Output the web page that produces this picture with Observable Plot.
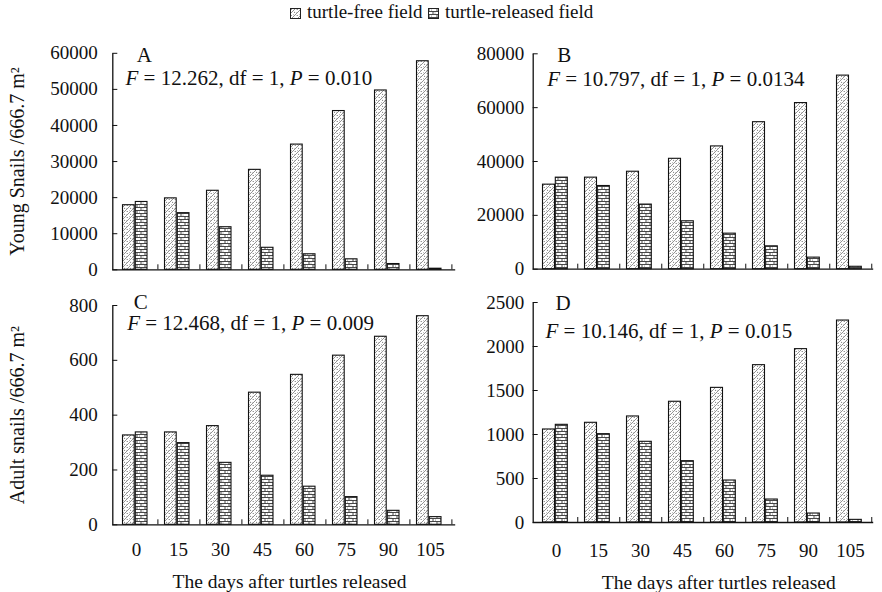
<!DOCTYPE html>
<html>
<head>
<meta charset="utf-8">
<script src="https://cdn.jsdelivr.net/npm/d3@7"></script>
<script src="https://cdn.jsdelivr.net/npm/@observablehq/plot@0.6"></script>
<style>
  body { margin: 0; background: #fff; }
  #wrap { position: relative; width: 882px; height: 592px; background: #fff; overflow: hidden;
          font-family: "Liberation Serif", "Times New Roman", serif; color: #111; }
  #wrap svg text { font-family: "Liberation Serif", "Times New Roman", serif !important; }
  #legend { position: absolute; top: 0; left: 0; width: 882px; height: 28px; font-size: 19px; white-space: nowrap; }
  #legend > * { position: absolute; }
</style>
</head>
<body>
<svg width="0" height="0" style="position:absolute">
  <defs>
    <pattern id="pFree" width="6" height="6" patternUnits="userSpaceOnUse">
      <rect width="6" height="6" fill="#fff"/>
      <path d="M0,6 L6,0 M-1,1 L1,-1 M5,7 L7,5" stroke="#777" stroke-width="0.8"/>
      <circle cx="1.2" cy="1.5" r="0.55" fill="#555"/>
      <circle cx="4.6" cy="4.2" r="0.55" fill="#555"/>
      <circle cx="3.6" cy="0.8" r="0.45" fill="#777"/>
      <circle cx="0.8" cy="4.6" r="0.45" fill="#777"/>
    </pattern>
    <pattern id="pRel" width="8" height="6" patternUnits="userSpaceOnUse">
      <rect width="8" height="6" fill="#fff"/>
      <path d="M0,0.5 H8 M0,3.5 H8 M1,0.5 V3.5 M5,3.5 V6.5" stroke="#333" stroke-width="0.9"/>
      <circle cx="3.5" cy="2" r="0.5" fill="#666"/>
      <circle cx="7" cy="5" r="0.5" fill="#666"/>
    </pattern>
  </defs>
</svg>
<div id="wrap">
  <div id="legend">
    <svg width="11" height="11" style="left:290px; top:8px"><rect x="0.5" y="0.5" width="10" height="10" fill="url(#pFree)" stroke="#222"/></svg>
    <span id="lg1" style="left:307px; top:1px"></span>
    <svg width="11" height="11" style="left:428px; top:8px"><rect x="0.5" y="0.5" width="10" height="10" fill="url(#pRel)" stroke="#222"/></svg>
    <span id="lg2" style="left:445px; top:1px"></span>
  </div>
</div>
<script>
// ---- data ----
const days = [0, 15, 30, 45, 60, 75, 90, 105];
const seriesNames = ["turtle-free field", "turtle-released field"];

const youngA_free     = [17900, 19800, 21900, 27700, 34700, 44000, 49700, 57800];
const youngA_released = [18800, 15700, 11800, 6100, 4300, 2900, 1600, 300];

const youngB_free     = [31400, 34000, 36200, 41000, 45600, 54600, 61700, 71900];
const youngB_released = [34000, 30900, 24000, 17800, 13200, 8500, 4300, 900];

const adultC_free     = [326, 337, 360, 482, 547, 617, 686, 761];
const adultC_released = [337, 298, 226, 179, 139, 101, 51, 28];

const adultD_free     = [1057, 1133, 1205, 1372, 1530, 1788, 1970, 2295];
const adultD_released = [1110, 1004, 917, 697, 477, 261, 102, 30];

const ticksA = [0, 10000, 20000, 30000, 40000, 50000, 60000];
const ticksB = [0, 20000, 40000, 60000, 80000];
const ticksC = [0, 200, 400, 600, 800];
const ticksD = [0, 500, 1000, 1500, 2000, 2500];

const statA = ["F", " = 12.262, df = 1, ", "P", " = 0.010"];
const statB = ["F", " = 10.797, df = 1, ", "P", " = 0.0134"];
const statC = ["F", " = 12.468, df = 1, ", "P", " = 0.009"];
const statD = ["F", " = 10.146, df = 1, ", "P", " = 0.015"];

const yTitleTop = "Young Snails /666.7 m²";
const yTitleBottom = "Adult snails /666.7 m²";
const xTitle = "The days after turtles released";

// ---- drawing ----
document.getElementById("lg1").textContent = seriesNames[0];
document.getElementById("lg2").textContent = seriesNames[1];
const wrap = document.getElementById("wrap");
const FONT = "Liberation Serif, Times New Roman, serif";

function panel(cfg) {
  const {free, released, ticks, letter, stat, left, top, width, height, ml, mr, mt, mb,
         showX, xPad, yPad, letterPos, statPos, yTitle, xTitlePos} = cfg;
  const data = days.map((d, i) => ({day: d, free: free[i], released: released[i]}));
  const plotW = width - ml - mr, plotH = height - mt - mb;
  const step = plotW / days.length;
  const statText = stat.join("");
  const marks = [
    Plot.barY(data, {x: "day", y: "free", fill: "url(#pFree)", stroke: "#111", strokeWidth: 1.1,
                     insetLeft: 7.5, insetRight: step - 20}),
    Plot.barY(data, {x: "day", y: "released", fill: "url(#pRel)", stroke: "#111", strokeWidth: 1.1,
                     insetLeft: 20.3, insetRight: step - 32.8}),
    Plot.ruleY(ticks, {stroke: "#111", strokeWidth: 1, insetRight: plotW - 5}),
    Plot.ruleX(days, {x: d => d, dx: step / 2, stroke: "#111", strokeWidth: 1, insetTop: plotH - 5}),
    Plot.frame({stroke: "#111", strokeWidth: 1.3, strokeDasharray: `0 ${plotW + plotH} ${plotW + plotH}`}),
    Plot.text([letter], {text: d => d, frameAnchor: "top-left", textAnchor: "start", lineAnchor: "middle",
                         dx: letterPos[0], dy: letterPos[1], fontSize: 21, fill: "#111"}),
    Plot.text([statText], {text: d => d, frameAnchor: "top-left", textAnchor: "start", lineAnchor: "middle",
                           dx: statPos[0], dy: statPos[1], fontSize: 21, fill: "#111"})
  ];
  if (yTitle) marks.push(Plot.text([yTitle], {text: d => d, frameAnchor: "left", rotate: -90, textAnchor: "middle",
                                              lineAnchor: "middle", dx: -95, fontSize: 20, fill: "#111"}));
  if (xTitlePos) marks.push(Plot.text([xTitle], {text: d => d, frameAnchor: "bottom-left", textAnchor: "middle",
                                                lineAnchor: "middle", dx: xTitlePos[0], dy: xTitlePos[1], fontSize: 19.5, fill: "#111"}));
  const svg = Plot.plot({
    width, height, marginLeft: ml, marginRight: mr, marginTop: mt, marginBottom: mb,
    style: {fontFamily: FONT, fontSize: "19px", color: "#111", background: "transparent", overflow: "visible", maxWidth: "none"},
    x: {type: "band", domain: days, padding: 0, axis: showX ? "bottom" : null, tickSize: 0, tickPadding: xPad, label: null},
    y: {domain: [0, ticks[ticks.length - 1]], ticks: ticks, tickSize: 0, tickPadding: yPad, tickFormat: d => String(d), label: null},
    marks
  });
  svg.style.position = "absolute";
  svg.style.left = left + "px";
  svg.style.top = top + "px";
  // italicise F and P in the statistic
  svg.querySelectorAll("text").forEach(t => {
    if (t.textContent === statText && t.children.length === 0) {
      t.textContent = "";
      stat.forEach((s, i) => {
        const ts = document.createElementNS("http://www.w3.org/2000/svg", "tspan");
        ts.textContent = s;
        if (i % 2 === 0) ts.setAttribute("font-style", "italic");
        t.appendChild(ts);
      });
    }
  });
  wrap.appendChild(svg);
}

panel({free: youngA_free, released: youngA_released, ticks: ticksA, letter: "A", stat: statA,
       left: 0, top: 30, width: 460, height: 250, ml: 112.3, mr: 5.3, mt: 22.8, mb: 10.7,
       showX: false, xPad: 19, yPad: 15, letterPos: [24, 2], statPos: [12.7, 24.5], yTitle: yTitleTop});
panel({free: youngB_free, released: youngB_released, ticks: ticksB, letter: "B", stat: statB,
       left: 441, top: 30, width: 441, height: 250, ml: 91.7, mr: 9.3, mt: 23.3, mb: 11.3,
       showX: false, xPad: 19, yPad: 9, letterPos: [24, 1.2], statPos: [14, 25]});
panel({free: adultC_free, released: adultC_released, ticks: ticksC, letter: "C", stat: statC,
       left: 0, top: 290, width: 460, height: 302, ml: 112.3, mr: 5.3, mt: 15, mb: 67.7,
       showX: true, xPad: 18, yPad: 15, letterPos: [21, -3.5], statPos: [14.4, 18], yTitle: yTitleBottom,
       xTitlePos: [176.7, 57.4]});
panel({free: adultD_free, released: adultD_released, ticks: ticksD, letter: "D", stat: statD,
       left: 441, top: 290, width: 441, height: 302, ml: 91.7, mr: 9.3, mt: 12, mb: 70,
       showX: true, xPad: 21, yPad: 9, letterPos: [22.3, 0.5], statPos: [12.3, 28.5],
       xTitlePos: [185.6, 60]});
</script>
</body>
</html>
